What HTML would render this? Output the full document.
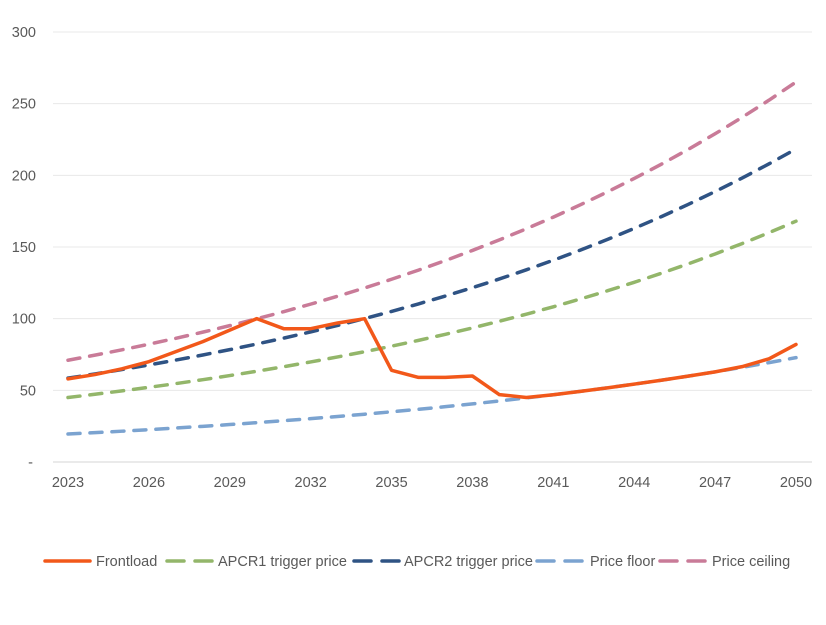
<!DOCTYPE html>
<html><head><meta charset="utf-8"><style>
body{margin:0;background:#fff}
svg text{font-family:"Liberation Sans",sans-serif;font-size:14.5px;fill:#595959}
</style></head><body>
<svg id="c" width="826" height="620" xmlns="http://www.w3.org/2000/svg"></svg>
<script>
const s=document.getElementById('c');let h='';
const X=y=>68+(y-2023)*(796-68)/27, Y=v=>462-v*(462-32)/300;
for(let v=0;v<=300;v+=50){h+=`<line x1="53" x2="812" y1="${Y(v)}" y2="${Y(v)}" stroke="${v?'#e8e8e8':'#d6d6d6'}" stroke-width="1"/>`;
h+=`<text x="${v?36:33}" y="${Y(v)+5}" text-anchor="end">${v?v:'-'}</text>`;}
for(let y=2023;y<=2050;y+=3)h+=`<text x="${X(y)}" y="487" text-anchor="middle">${y}</text>`;
function ser(b){let a=[];for(let i=0;i<=27;i++)a.push(b*Math.pow(1.05,i));return a}
function path(a,c,d){return `<polyline fill="none" stroke="${c}" stroke-width="3.5" stroke-linecap="round" stroke-linejoin="round" ${d?'stroke-dasharray="12 10"':''} points="${a.map((v,i)=>X(2023+i)+','+Y(v)).join(' ')}"/>`}
const fl=ser(19.5);
const front=[58,61,65,70,77,84,92,100,93,93,97,100,64,59,59,60,47,45,fl[18],fl[19],fl[20],fl[21],fl[22],fl[23],fl[24],fl[25]+0.5,72,82];
h+=path(ser(71),'#C97B98',1)+path(ser(58.5),'#2F5384',1)+path(ser(45),'#93B66A',1)+path(fl,'#7BA3D0',1)+path(front,'#F2581A',0);
const L=[[45,'#F2581A',0,'Frontload',96],[167,'#93B66A',1,'APCR1 trigger price',218],[354,'#2F5384',1,'APCR2 trigger price',404],[537,'#7BA3D0',1,'Price floor',590],[660,'#C97B98',1,'Price ceiling',712]];
for(const [x,c,d,t,tx] of L){h+=`<line x1="${x}" x2="${x+45}" y1="561" y2="561" stroke="${c}" stroke-width="3.5" stroke-linecap="round" ${d?'stroke-dasharray="17 11"':''}/><text x="${tx}" y="566">${t}</text>`;}
s.innerHTML=h;
</script>
</body></html>
